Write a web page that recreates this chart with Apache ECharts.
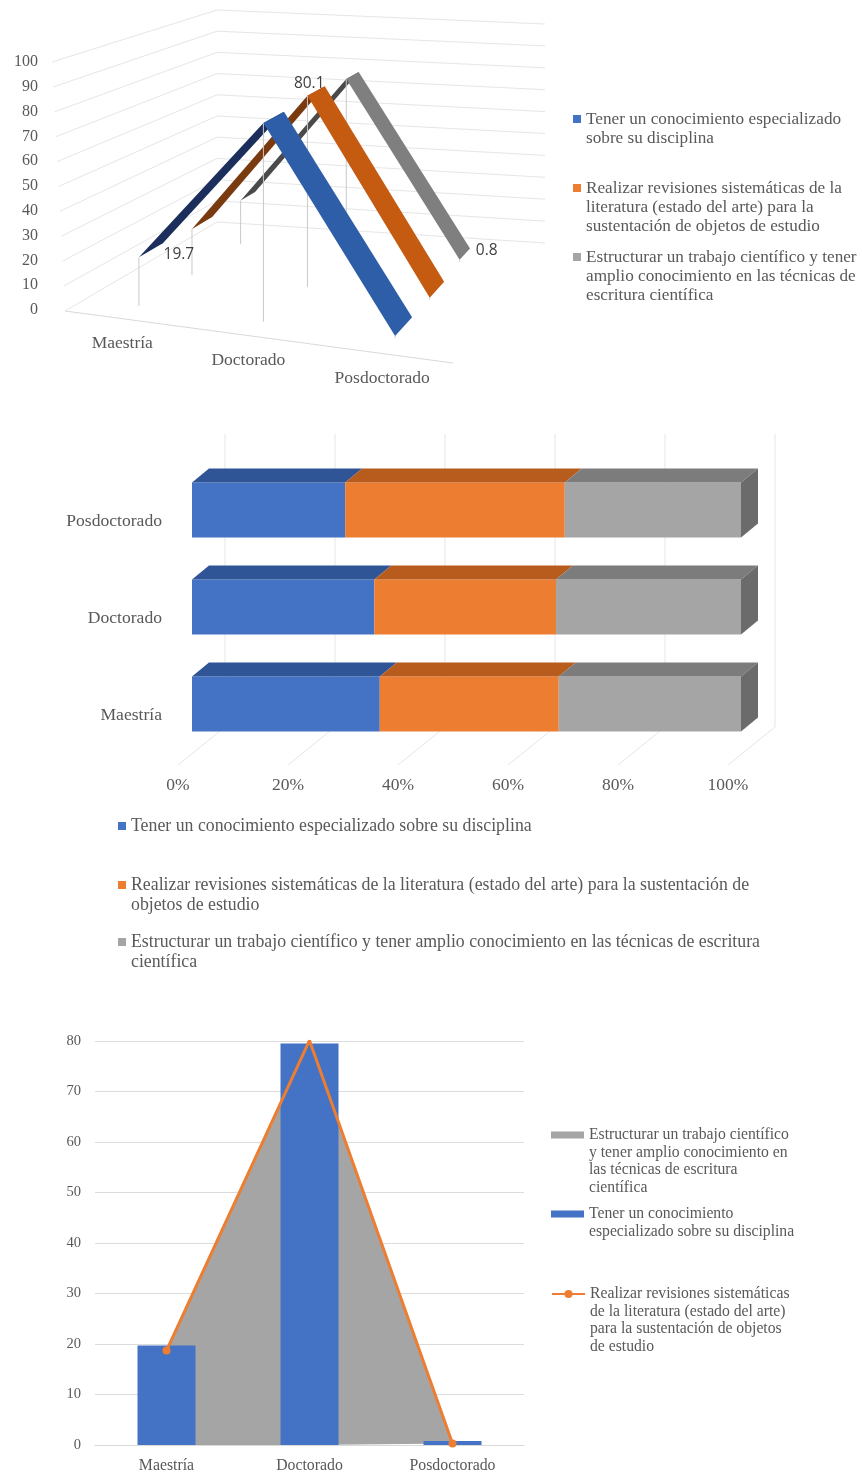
<!DOCTYPE html>
<html><head><meta charset="utf-8">
<style>html,body{margin:0;padding:0;background:#fff}#c{width:862px;height:1475px;filter:blur(0.55px)}</style>
<script src="https://cdn.jsdelivr.net/npm/echarts@6/dist/echarts.min.js"></script>
</head><body><div id="c"></div>
<script>
// ---- data ----
const categories = ['Maestría', 'Doctorado', 'Posdoctorado'];
// chart 1 (3D lines)
const lineBlue = [19.7, 78.3, 0.8];
const lineOrange = [19.7, 80.1, 0.8];
const lineGray = [19.7, 77.5, 0.8];
const ticks1 = [0, 10, 20, 30, 40, 50, 60, 70, 80, 90, 100];
// chart 2 (100% stacked 3D bars), order Maestría, Doctorado, Posdoctorado
const pctBlue = [34.2, 33.2, 27.9];
const pctOrange = [32.6, 33.1, 40.0];
const pctGray = [33.2, 33.7, 32.1];
const ticks2 = [0, 20, 40, 60, 80, 100];
// chart 3 (combo)
const barBlue = [19.7, 79.5, 0.8];
const areaGray = [18.7, 80.1, 0.3];
const lineOr = [18.7, 80.1, 0.3];
// legend text
const legend1 = [['Tener un conocimiento especializado', 'sobre su disciplina'],
  ['Realizar revisiones sistemáticas de la', 'literatura (estado del arte) para la', 'sustentación de objetos de estudio'],
  ['Estructurar un trabajo científico y tener', 'amplio conocimiento en las técnicas de', 'escritura científica']];
const legend2 = [['Tener un conocimiento especializado sobre su disciplina'],
  ['Realizar revisiones sistemáticas de la literatura (estado del arte) para la sustentación de', 'objetos de estudio'],
  ['Estructurar un trabajo científico y tener amplio conocimiento en las técnicas de escritura', 'científica']];
const legend3 = [['Estructurar un trabajo científico', 'y tener amplio conocimiento en', 'las técnicas de escritura', 'científica'],
  ['Tener un conocimiento', 'especializado sobre su disciplina'],
  ['Realizar revisiones sistemáticas', 'de la literatura (estado del arte)', 'para la sustentación de objetos', 'de estudio']];

// ---- style ----
const SERIF = '"Liberation Serif"', TXT = '#595959', GRID = '#e6e6e6';
const BLUE = '#4472c4', ORANGE = '#ed7d31', GRAY = '#a5a5a5';

// ---- 3D projection for chart 1: corner points of floor and ceiling ----
const C = {A:[65,311],B:[453,363],Cc:[217,222],D:[545,243],
           At:[52,62],Bt:[466,92],Ct:[217,10],Dt:[545,24]};
const mix = (a,b,k)=>[a[0]+(b[0]-a[0])*k, a[1]+(b[1]-a[1])*k];
const bil = (a,b,c,d,u,v)=>mix(mix(a,b,u),mix(c,d,u),v);
const proj = (u,d,t)=>mix(bil(C.A,C.B,C.Cc,C.D,u,d), bil(C.At,C.Bt,C.Ct,C.Dt,u,d), t);
const warp = u=>-0.01+0.915*u+0.09*u*u;
function unit(params, api, i, v){
  const p = api.coord([i,v]), r = params.coordSys;
  return [warp((p[0]-r.x)/r.width), (r.y+r.height-p[1])/r.height];
}
const poly = (pts,fill)=>({type:'polygon',shape:{points:pts},style:{fill}});
const seg = (a,b,stroke,w)=>({type:'line',shape:{x1:a[0],y1:a[1],x2:b[0],y2:b[1]},style:{stroke,lineWidth:w||1,fill:null}});

function ribbon(name, values, d0, W, uShift, rise, fall, legendColor){
  return {type:'custom', name, xAxisIndex:0, yAxisIndex:0, coordinateSystem:'cartesian2d',
    itemStyle:{color:legendColor}, encode:{x:0,y:1},
    data: values.map((v,i)=>[i,v]),
    renderItem(params, api){
      const i = api.value(0), v = api.value(1), ch = [];
      let [u,t] = unit(params, api, i, v); u += uShift[i];
      const top = proj(u,d0,t), foot = proj(u,d0,0);
      ch.push(seg(top, [top[0],foot[1]], '#c9c9c9', 1));
      if (i < values.length-1){
        let [u2,t2] = unit(params, api, i+1, values[i+1]); u2 += uShift[i+1];
        const up = t2>t;
        ch.push(poly([proj(u,d0,t),proj(u2,d0,t2),proj(u2,d0+W,t2),proj(u,d0+W,t)], up?rise:fall));
      }
      return {type:'group',children:ch};
    }};
}
function legendSet(names, lines, left, ys, lh, font, iw, ih){
  return names.map((nm,k)=>{
    const n = lines[k].length;
    const text = '\n'.repeat(n-1)+lines[k].join('\n');
    return {data:[typeof nm==='string'?{name:nm,icon:'rect'}:nm], orient:'vertical', left,
      top: ys[k]-(n-1)*lh-lh/2, padding:0, itemWidth:iw, itemHeight:(Array.isArray(ih)?ih[k]:ih),
      selectedMode:false, formatter:()=>text,
      textStyle:{fontFamily:SERIF,fontSize:font,color:TXT,lineHeight:lh}};
  });
}
const names1 = ['c1-a','c1-b','c1-c'], names2 = ['c2-a','c2-b','c2-c'], names3 = ['c3-a','c3-b','c3-c'];

// chart 2 bars
const bandFrac = 55/97, DX = 17, DY = -14;
function stack(name, values, prevs, front, top, isLast){
  return {type:'custom', name, xAxisIndex:1, yAxisIndex:1, coordinateSystem:'cartesian2d',
    itemStyle:{color:front}, encode:{x:[0,1],y:2}, z:3,
    data: values.map((v,i)=>{const s=prevs.reduce((a,p)=>a+p[i],0);return [s,s+v,i];}),
    renderItem(params, api){
      const a = api.coord([api.value(0),api.value(2)]), b = api.coord([api.value(1),api.value(2)]);
      const h = api.size([0,1])[1]*bandFrac, y0=a[1]-h/2, y1=a[1]+h/2;
      const ch = [{type:'rect',shape:{x:a[0],y:y0,width:b[0]-a[0],height:h},style:{fill:front}},
        poly([[a[0],y0],[b[0],y0],[b[0]+DX,y0+DY],[a[0]+DX,y0+DY]],top)];
      if (isLast) ch.push(poly([[b[0],y0],[b[0]+DX,y0+DY],[b[0]+DX,y1+DY],[b[0],y1]],'#6b6b6b'));
      return {type:'group',children:ch};
    }};
}

const option = {
  animation:false, backgroundColor:'#fff',
  textStyle:{fontFamily:SERIF,color:TXT},
  grid:[
    {left:65,width:388,top:62,height:248},
    {left:192,width:549,top:461.5,height:291},
    {left:178,width:550,top:434,height:331},
    {left:95,width:429,top:1041,height:404}
  ],
  xAxis:[
    {gridIndex:0,type:'category',data:categories,show:false},
    {gridIndex:1,type:'value',min:0,max:100,show:false},
    {gridIndex:2,type:'value',min:0,max:100,interval:20,
      axisLine:{show:false},axisTick:{show:false},splitLine:{show:false},
      axisLabel:{formatter:'{value}%',margin:11,fontSize:17.5,color:TXT,fontFamily:SERIF,showMinLabel:true,showMaxLabel:true}},
    {gridIndex:3,type:'category',data:categories,
      axisLine:{lineStyle:{color:'#d9d9d9'}},axisTick:{show:false},
      axisLabel:{margin:13,fontSize:15.8,color:TXT,fontFamily:SERIF}}
  ],
  yAxis:[
    {gridIndex:0,type:'value',min:0,max:100,interval:10,axisLine:{show:false},axisTick:{show:false},splitLine:{show:false},
      axisLabel:{margin:27,fontSize:16,color:TXT,fontFamily:SERIF}},
    {gridIndex:1,type:'category',data:categories,axisLine:{show:false},axisTick:{show:false},
      axisLabel:{margin:30,fontSize:17.6,color:TXT,fontFamily:SERIF,verticalAlign:'top',lineHeight:22}},
    {gridIndex:2,type:'value',min:0,max:1,show:false},
    {gridIndex:3,type:'value',min:0,max:80,interval:10,axisLine:{show:false},axisTick:{show:false},
      splitLine:{lineStyle:{color:'#dcdcdc'}},
      axisLabel:{margin:14,fontSize:14.5,color:TXT,fontFamily:SERIF}}
  ],
  legend:[
    ...legendSet(names1,legend1,573,[119,188,257],19,17.2,8,8),
    ...legendSet(names2,legend2,118,[826,885,942],20,17.8,8,8),
    ...legendSet([{name:names3[0],icon:'rect'},{name:names3[1],icon:'rect'},{name:names3[2]}],
      legend3,551,[1135,1214,1294],17.5,15.7,33,[7,7,10])
  ],
  series:[
    // chart 1 walls
    {type:'custom',xAxisIndex:0,yAxisIndex:0,silent:true,encode:{x:0,y:1},z:1,
      data:ticks1.map(t=>[0,t]),
      renderItem(params,api){
        const p=api.coord([0,api.value(1)]), r=params.coordSys, t=(r.y+r.height-p[1])/r.height;
        return {type:'polyline',shape:{points:[proj(0,0,t),proj(0,1,t),proj(1,1,t)]},style:{stroke:GRID,fill:null,lineWidth:1}};
      }},
    {type:'custom',xAxisIndex:0,yAxisIndex:0,silent:true,encode:{x:0,y:1},z:1,
      data:[[0,0]],
      renderItem(){return seg(proj(0,0,0),proj(1,0,0),'#d9d9d9',1);}},
    // category labels of chart 1 on the slanted floor edge
    {type:'custom',xAxisIndex:0,yAxisIndex:0,silent:true,encode:{x:0,y:1},z:2,
      data:categories.map((c,i)=>[i,0]),
      renderItem(params,api){
        const i=api.value(0), [u]=unit(params,api,i,0), p=proj(u,0,0);
        return {type:'text',style:{x:p[0]+1,y:p[1]+25,text:categories[i],fill:TXT,font:'17.5px '+SERIF,textAlign:'center',textVerticalAlign:'middle'}};
      }},
    ribbon(names1[2],lineGray,0.80,0.1,[0.015,0,-0.012],'#4a4a4a','#7f7f7f',GRAY),
    ribbon(names1[1],lineOrange,0.47,0.14,[0.012,0.006,0],'#7a3a10','#c55a11',ORANGE),
    ribbon(names1[0],lineBlue,0.134,0.165,[0,0,0],'#1c2f5c','#2f5ea8',BLUE),
    // data labels of chart 1
    {type:'custom',xAxisIndex:0,yAxisIndex:0,silent:true,encode:{x:0,y:1},z:5,
      data:[[0,lineBlue[0],0.134,40,-3],[1,lineOrange[1],0.47,4,-12],[2,lineGray[2],0.79,24,-11]],
      renderItem(params,api){
        const i=api.value(0), v=api.value(1), [u,t]=unit(params,api,i,v), p=proj(u,api.value(2),t);
        return {type:'text',style:{x:p[0]+api.value(3),y:p[1]+api.value(4),text:String(v),fill:'#404040',font:'15.5px "Open Sans"',textAlign:'center',textVerticalAlign:'middle'}};
      }},
    // chart 2 walls
    {type:'custom',xAxisIndex:2,yAxisIndex:2,silent:true,encode:{x:0,y:1},z:1,
      data:ticks2.map(t=>[t,0]),
      renderItem(params,api){
        const a=api.coord([api.value(0),0]), top=api.coord([api.value(0),1]);
        return {type:'polyline',shape:{points:[a,[a[0]+47,a[1]-38],[a[0]+47,top[1]]]},style:{stroke:GRID,fill:null,lineWidth:1}};
      }},
    stack(names2[0],pctBlue,[],BLUE,'#2f5597',false),
    stack(names2[1],pctOrange,[pctBlue],ORANGE,'#b85c1e',false),
    stack(names2[2],pctGray,[pctBlue,pctOrange],GRAY,'#7c7c7c',true),
    // chart 3
    {type:'line',name:names3[0],xAxisIndex:3,yAxisIndex:3,data:areaGray,showSymbol:false,
      lineStyle:{width:0},itemStyle:{color:GRAY},areaStyle:{color:GRAY,opacity:1},z:2},
    {type:'bar',name:names3[1],xAxisIndex:3,yAxisIndex:3,data:barBlue,barWidth:58,itemStyle:{color:BLUE},z:3},
    {type:'line',name:names3[2],xAxisIndex:3,yAxisIndex:3,data:lineOr,symbol:'circle',symbolSize:8,
      lineStyle:{color:ORANGE,width:3},itemStyle:{color:ORANGE},z:4}
  ]
};
echarts.init(document.getElementById('c'),null,{renderer:'canvas'}).setOption(option);
</script></body></html>
